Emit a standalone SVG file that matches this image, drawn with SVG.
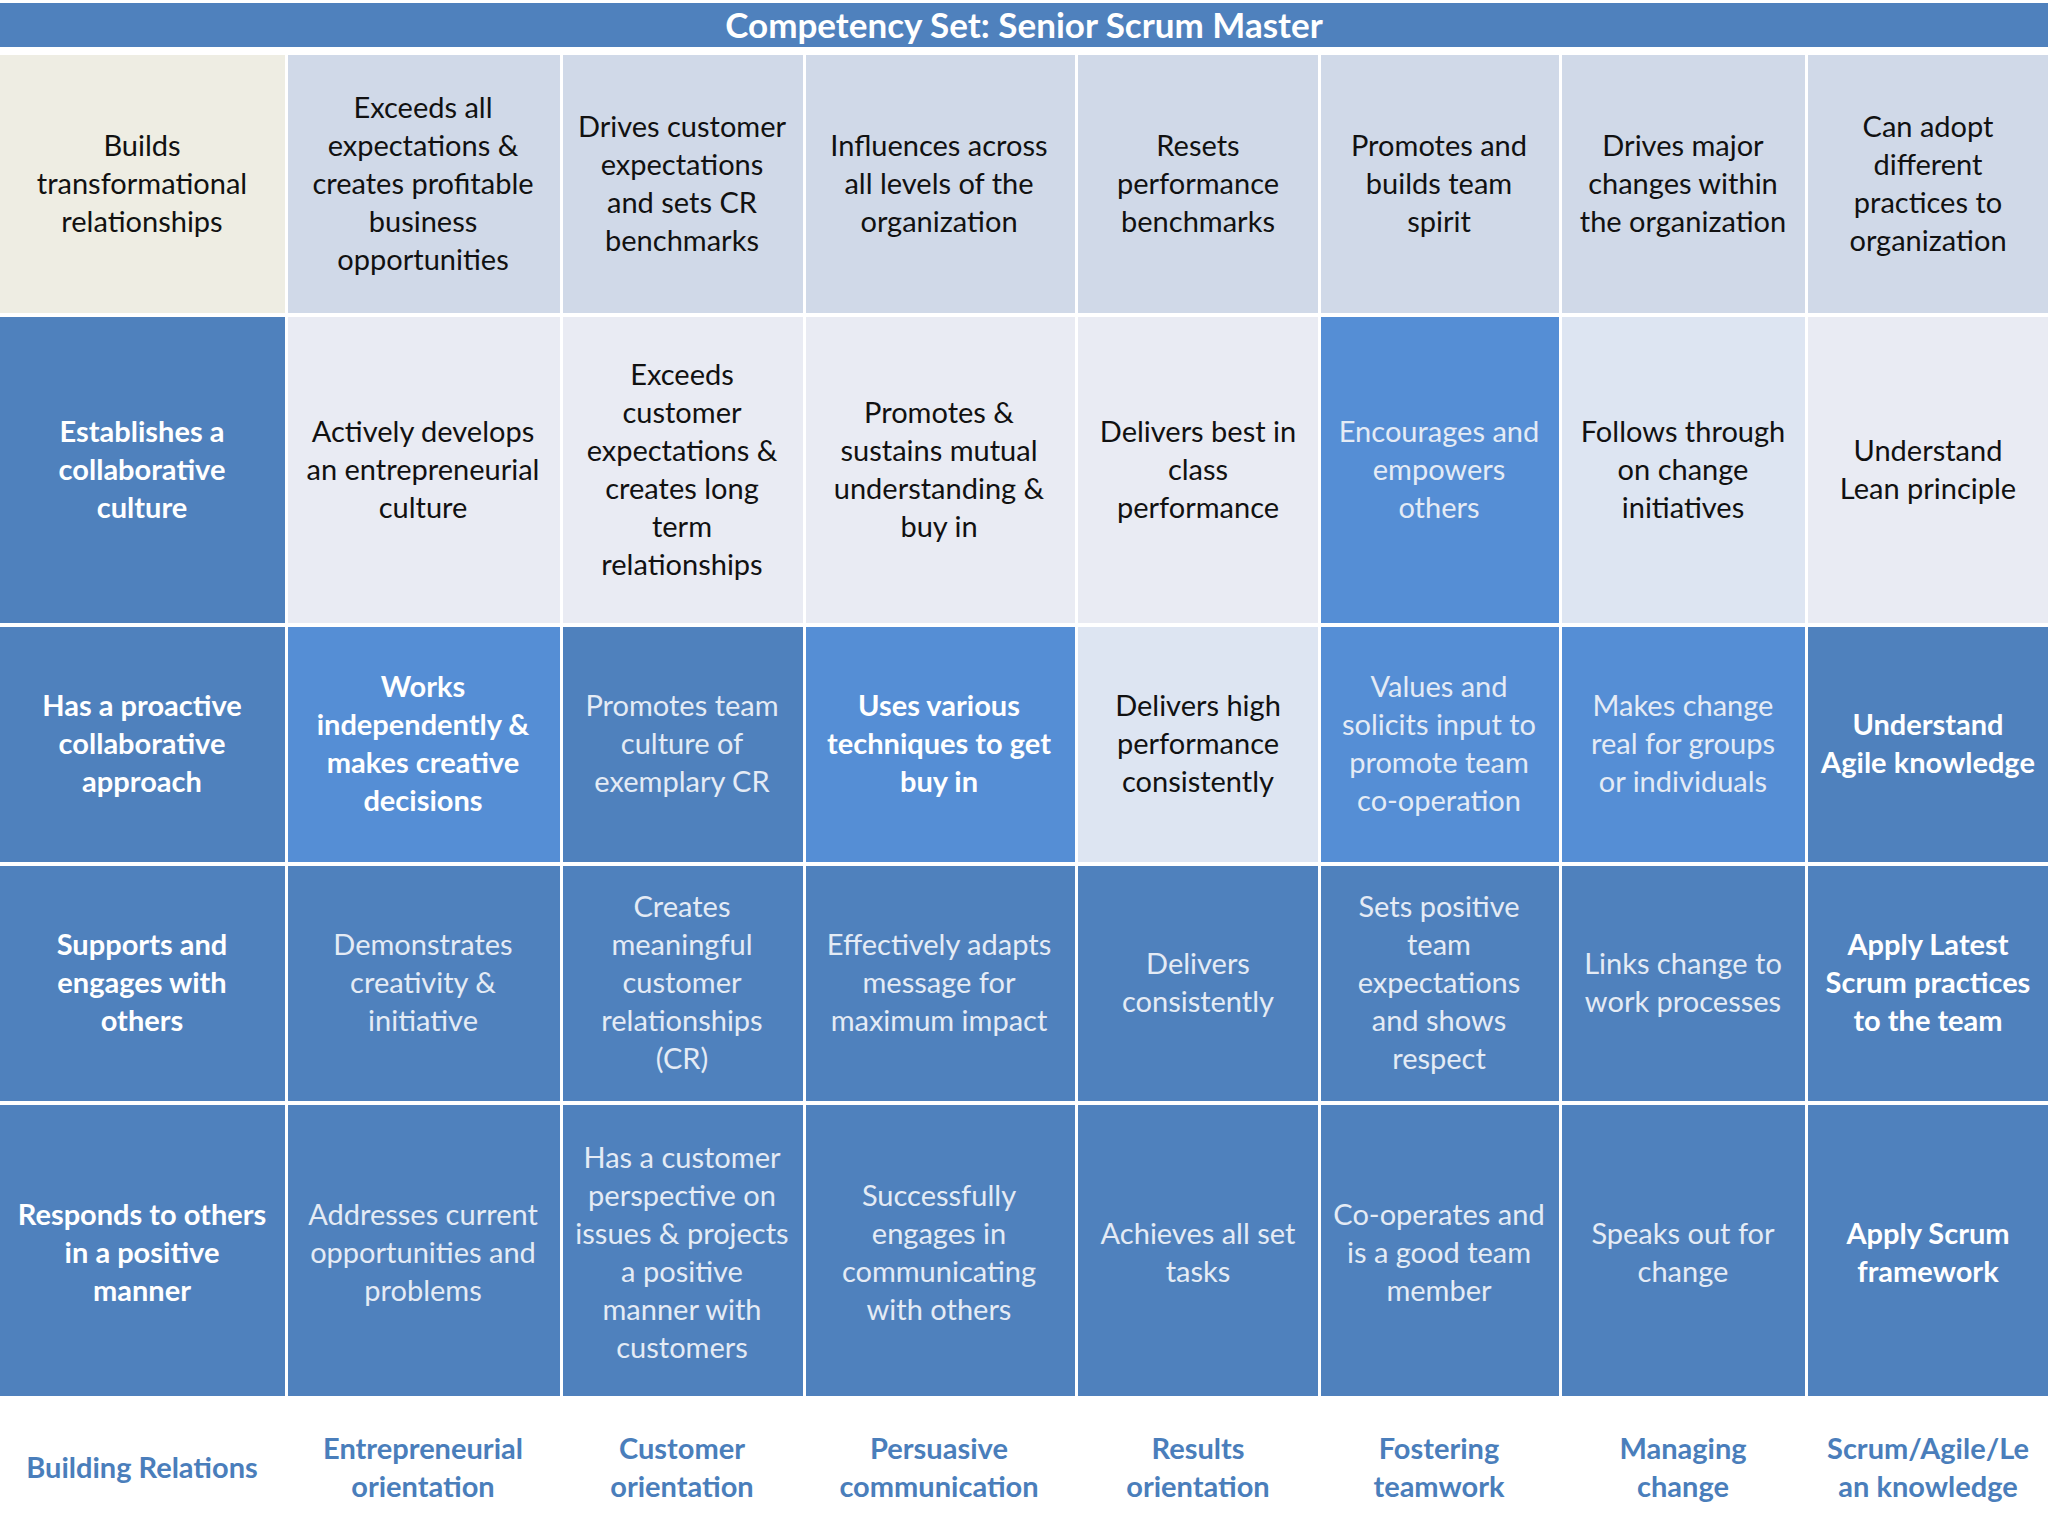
<svg xmlns="http://www.w3.org/2000/svg" width="2048" height="1536" viewBox="0 0 2048 1536">
<style>
text{font-family:Lato,"Open Sans","Liberation Sans",sans-serif;font-size:29px;text-anchor:middle}
.d{fill:#111}.l{fill:#e4ebf5}.b{fill:#fff;font-weight:bold}
.lab{fill:#4a7ebb;font-weight:bold}
.cr{fill:#eeede3}.p{fill:#d0d9e8}.v{fill:#e9ebf3}.k{fill:#4f81bd}.m{fill:#558ed5}.s{fill:#dde5f2}
</style>
<rect width="2048" height="1536" fill="#fff"/>
<g id="title"><rect x="0" y="3" width="2048" height="44" fill="#4f81bd"/><text x="1024" y="38" style="font-size:35px;font-weight:bold;fill:#fff">Competency Set:  Senior Scrum Master</text></g>
<g id="r1">
<rect class="cr" x="0" y="55" width="285" height="258"/><text class="d" x="142" y="156"><tspan x="142">Builds</tspan><tspan x="142" dy="38">transformational</tspan><tspan x="142" dy="38">relationships</tspan></text>
<rect class="p" x="288" y="55" width="272" height="258"/><text class="d" x="423" y="118"><tspan x="423">Exceeds all</tspan><tspan x="423" dy="38">expectations &amp;</tspan><tspan x="423" dy="38">creates profitable</tspan><tspan x="423" dy="38">business</tspan><tspan x="423" dy="38">opportunities</tspan></text>
<rect class="p" x="563" y="55" width="240" height="258"/><text class="d" x="682" y="137"><tspan x="682">Drives customer</tspan><tspan x="682" dy="38">expectations</tspan><tspan x="682" dy="38">and sets CR</tspan><tspan x="682" dy="38">benchmarks</tspan></text>
<rect class="p" x="806" y="55" width="269" height="258"/><text class="d" x="939" y="156"><tspan x="939">Influences across</tspan><tspan x="939" dy="38">all levels of the</tspan><tspan x="939" dy="38">organization</tspan></text>
<rect class="p" x="1078" y="55" width="240" height="258"/><text class="d" x="1198" y="156"><tspan x="1198">Resets</tspan><tspan x="1198" dy="38">performance</tspan><tspan x="1198" dy="38">benchmarks</tspan></text>
<rect class="p" x="1321" y="55" width="238" height="258"/><text class="d" x="1439" y="156"><tspan x="1439">Promotes and</tspan><tspan x="1439" dy="38">builds team</tspan><tspan x="1439" dy="38">spirit</tspan></text>
<rect class="p" x="1562" y="55" width="243" height="258"/><text class="d" x="1683" y="156"><tspan x="1683">Drives major</tspan><tspan x="1683" dy="38">changes within</tspan><tspan x="1683" dy="38">the organization</tspan></text>
<rect class="p" x="1808" y="55" width="240" height="258"/><text class="d" x="1928" y="137"><tspan x="1928">Can adopt</tspan><tspan x="1928" dy="38">different</tspan><tspan x="1928" dy="38">practices to</tspan><tspan x="1928" dy="38">organization</tspan></text>
</g>
<g id="r2">
<rect class="k" x="0" y="317" width="285" height="306"/><text class="b" x="142" y="442"><tspan x="142">Establishes a</tspan><tspan x="142" dy="38">collaborative</tspan><tspan x="142" dy="38">culture</tspan></text>
<rect class="v" x="288" y="317" width="272" height="306"/><text class="d" x="423" y="442"><tspan x="423">Actively develops</tspan><tspan x="423" dy="38">an entrepreneurial</tspan><tspan x="423" dy="38">culture</tspan></text>
<rect class="v" x="563" y="317" width="240" height="306"/><text class="d" x="682" y="385"><tspan x="682">Exceeds</tspan><tspan x="682" dy="38">customer</tspan><tspan x="682" dy="38">expectations &amp;</tspan><tspan x="682" dy="38">creates long</tspan><tspan x="682" dy="38">term</tspan><tspan x="682" dy="38">relationships</tspan></text>
<rect class="v" x="806" y="317" width="269" height="306"/><text class="d" x="939" y="423"><tspan x="939">Promotes &amp;</tspan><tspan x="939" dy="38">sustains mutual</tspan><tspan x="939" dy="38">understanding &amp;</tspan><tspan x="939" dy="38">buy in</tspan></text>
<rect class="v" x="1078" y="317" width="240" height="306"/><text class="d" x="1198" y="442"><tspan x="1198">Delivers best in</tspan><tspan x="1198" dy="38">class</tspan><tspan x="1198" dy="38">performance</tspan></text>
<rect class="m" x="1321" y="317" width="238" height="306"/><text class="l" x="1439" y="442"><tspan x="1439">Encourages and</tspan><tspan x="1439" dy="38">empowers</tspan><tspan x="1439" dy="38">others</tspan></text>
<rect class="s" x="1562" y="317" width="243" height="306"/><text class="d" x="1683" y="442"><tspan x="1683">Follows through</tspan><tspan x="1683" dy="38">on change</tspan><tspan x="1683" dy="38">initiatives</tspan></text>
<rect class="v" x="1808" y="317" width="240" height="306"/><text class="d" x="1928" y="461"><tspan x="1928">Understand</tspan><tspan x="1928" dy="38">Lean principle</tspan></text>
</g>
<g id="r3">
<rect class="k" x="0" y="627" width="285" height="235"/><text class="b" x="142" y="716"><tspan x="142">Has a proactive</tspan><tspan x="142" dy="38">collaborative</tspan><tspan x="142" dy="38">approach</tspan></text>
<rect class="m" x="288" y="627" width="272" height="235"/><text class="b" x="423" y="697"><tspan x="423">Works</tspan><tspan x="423" dy="38">independently &amp;</tspan><tspan x="423" dy="38">makes creative</tspan><tspan x="423" dy="38">decisions</tspan></text>
<rect class="k" x="563" y="627" width="240" height="235"/><text class="l" x="682" y="716"><tspan x="682">Promotes team</tspan><tspan x="682" dy="38">culture of</tspan><tspan x="682" dy="38">exemplary CR</tspan></text>
<rect class="m" x="806" y="627" width="269" height="235"/><text class="b" x="939" y="716"><tspan x="939">Uses various</tspan><tspan x="939" dy="38">techniques to get</tspan><tspan x="939" dy="38">buy in</tspan></text>
<rect class="s" x="1078" y="627" width="240" height="235"/><text class="d" x="1198" y="716"><tspan x="1198">Delivers high</tspan><tspan x="1198" dy="38">performance</tspan><tspan x="1198" dy="38">consistently</tspan></text>
<rect class="m" x="1321" y="627" width="238" height="235"/><text class="l" x="1439" y="697"><tspan x="1439">Values and</tspan><tspan x="1439" dy="38">solicits input to</tspan><tspan x="1439" dy="38">promote team</tspan><tspan x="1439" dy="38">co-operation</tspan></text>
<rect class="m" x="1562" y="627" width="243" height="235"/><text class="l" x="1683" y="716"><tspan x="1683">Makes change</tspan><tspan x="1683" dy="38">real for groups</tspan><tspan x="1683" dy="38">or individuals</tspan></text>
<rect class="k" x="1808" y="627" width="240" height="235"/><text class="b" x="1928" y="735"><tspan x="1928">Understand</tspan><tspan x="1928" dy="38">Agile knowledge</tspan></text>
</g>
<g id="r4">
<rect class="k" x="0" y="866" width="285" height="235"/><text class="b" x="142" y="955"><tspan x="142">Supports and</tspan><tspan x="142" dy="38">engages with</tspan><tspan x="142" dy="38">others</tspan></text>
<rect class="k" x="288" y="866" width="272" height="235"/><text class="l" x="423" y="955"><tspan x="423">Demonstrates</tspan><tspan x="423" dy="38">creativity &amp;</tspan><tspan x="423" dy="38">initiative</tspan></text>
<rect class="k" x="563" y="866" width="240" height="235"/><text class="l" x="682" y="917"><tspan x="682">Creates</tspan><tspan x="682" dy="38">meaningful</tspan><tspan x="682" dy="38">customer</tspan><tspan x="682" dy="38">relationships</tspan><tspan x="682" dy="38">(CR)</tspan></text>
<rect class="k" x="806" y="866" width="269" height="235"/><text class="l" x="939" y="955"><tspan x="939">Effectively adapts</tspan><tspan x="939" dy="38">message for</tspan><tspan x="939" dy="38">maximum impact</tspan></text>
<rect class="k" x="1078" y="866" width="240" height="235"/><text class="l" x="1198" y="974"><tspan x="1198">Delivers</tspan><tspan x="1198" dy="38">consistently</tspan></text>
<rect class="k" x="1321" y="866" width="238" height="235"/><text class="l" x="1439" y="917"><tspan x="1439">Sets positive</tspan><tspan x="1439" dy="38">team</tspan><tspan x="1439" dy="38">expectations</tspan><tspan x="1439" dy="38">and shows</tspan><tspan x="1439" dy="38">respect</tspan></text>
<rect class="k" x="1562" y="866" width="243" height="235"/><text class="l" x="1683" y="974"><tspan x="1683">Links change to</tspan><tspan x="1683" dy="38">work processes</tspan></text>
<rect class="k" x="1808" y="866" width="240" height="235"/><text class="b" x="1928" y="955"><tspan x="1928">Apply Latest</tspan><tspan x="1928" dy="38">Scrum practices</tspan><tspan x="1928" dy="38">to the team</tspan></text>
</g>
<g id="r5">
<rect class="k" x="0" y="1105" width="285" height="291"/><text class="b" x="142" y="1225"><tspan x="142">Responds to others</tspan><tspan x="142" dy="38">in a positive</tspan><tspan x="142" dy="38">manner</tspan></text>
<rect class="k" x="288" y="1105" width="272" height="291"/><text class="l" x="423" y="1225"><tspan x="423">Addresses current</tspan><tspan x="423" dy="38">opportunities and</tspan><tspan x="423" dy="38">problems</tspan></text>
<rect class="k" x="563" y="1105" width="240" height="291"/><text class="l" x="682" y="1168"><tspan x="682">Has a customer</tspan><tspan x="682" dy="38">perspective on</tspan><tspan x="682" dy="38">issues &amp; projects</tspan><tspan x="682" dy="38">a positive</tspan><tspan x="682" dy="38">manner with</tspan><tspan x="682" dy="38">customers</tspan></text>
<rect class="k" x="806" y="1105" width="269" height="291"/><text class="l" x="939" y="1206"><tspan x="939">Successfully</tspan><tspan x="939" dy="38">engages in</tspan><tspan x="939" dy="38">communicating</tspan><tspan x="939" dy="38">with others</tspan></text>
<rect class="k" x="1078" y="1105" width="240" height="291"/><text class="l" x="1198" y="1244"><tspan x="1198">Achieves all set</tspan><tspan x="1198" dy="38">tasks</tspan></text>
<rect class="k" x="1321" y="1105" width="238" height="291"/><text class="l" x="1439" y="1225"><tspan x="1439">Co-operates and</tspan><tspan x="1439" dy="38">is a good team</tspan><tspan x="1439" dy="38">member</tspan></text>
<rect class="k" x="1562" y="1105" width="243" height="291"/><text class="l" x="1683" y="1244"><tspan x="1683">Speaks out for</tspan><tspan x="1683" dy="38">change</tspan></text>
<rect class="k" x="1808" y="1105" width="240" height="291"/><text class="b" x="1928" y="1244"><tspan x="1928">Apply Scrum</tspan><tspan x="1928" dy="38">framework</tspan></text>
</g>
<g id="labels">
<text class="lab" x="142" y="1478">Building Relations</text>
<text class="lab" x="423" y="1459"><tspan x="423">Entrepreneurial</tspan><tspan x="423" dy="38">orientation</tspan></text>
<text class="lab" x="682" y="1459"><tspan x="682">Customer</tspan><tspan x="682" dy="38">orientation</tspan></text>
<text class="lab" x="939" y="1459"><tspan x="939">Persuasive</tspan><tspan x="939" dy="38">communication</tspan></text>
<text class="lab" x="1198" y="1459"><tspan x="1198">Results</tspan><tspan x="1198" dy="38">orientation</tspan></text>
<text class="lab" x="1439" y="1459"><tspan x="1439">Fostering</tspan><tspan x="1439" dy="38">teamwork</tspan></text>
<text class="lab" x="1683" y="1459"><tspan x="1683">Managing</tspan><tspan x="1683" dy="38">change</tspan></text>
<text class="lab" x="1928" y="1459"><tspan x="1928">Scrum/Agile/Le</tspan><tspan x="1928" dy="38">an knowledge</tspan></text>
</g>
</svg>
